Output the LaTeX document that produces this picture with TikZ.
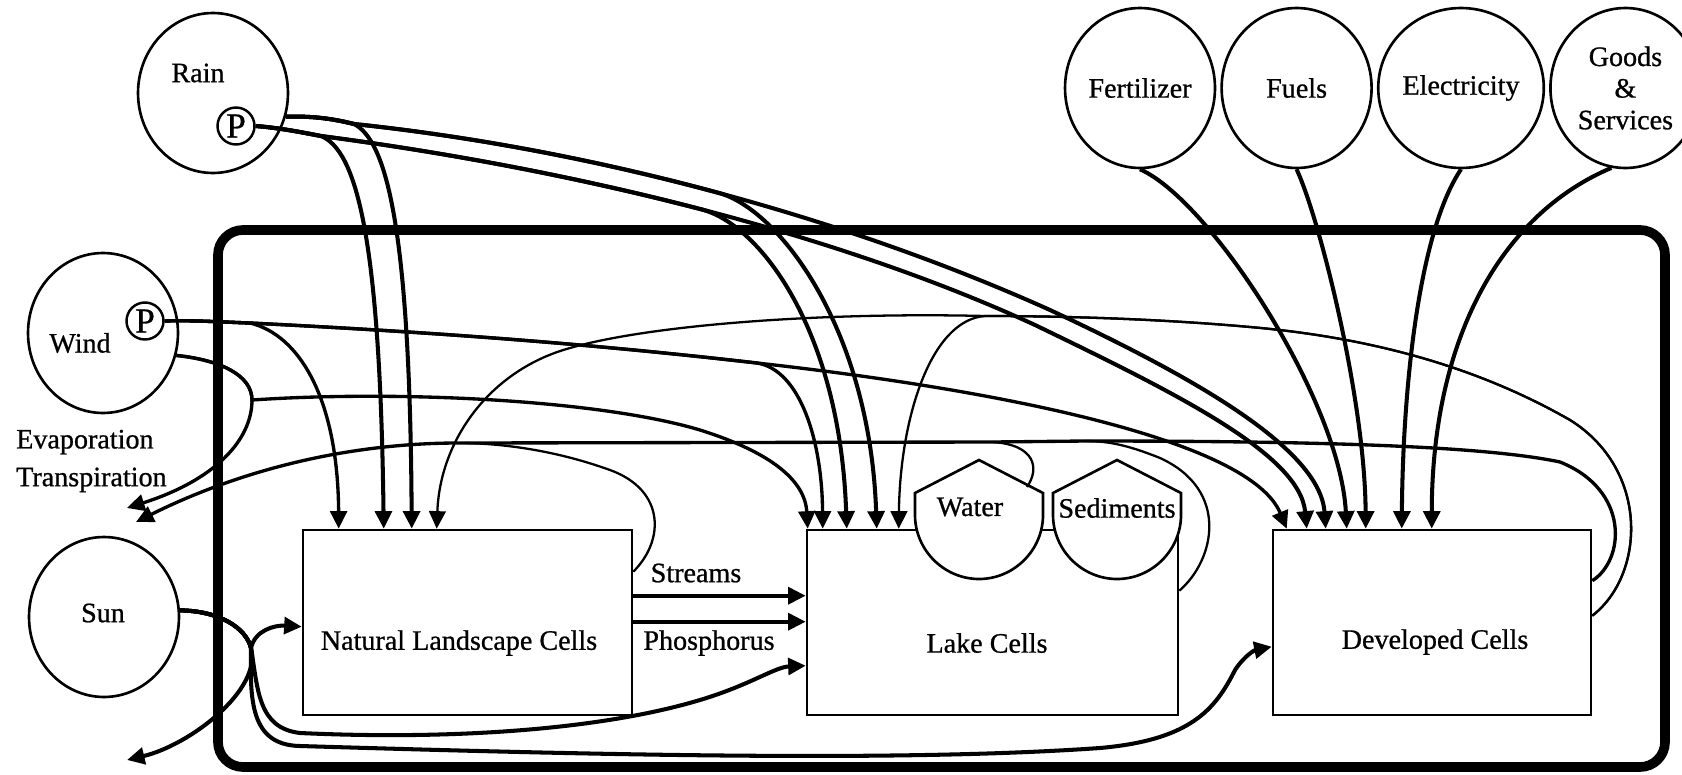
\documentclass[tikz,border=0pt]{standalone}
\usepackage{fontspec}
\setmainfont{Liberation Serif}
\newfontfamily\labelfont{Liberation Serif}[FakeBold=0.8]
\usetikzlibrary{positioning,arrows.meta,calc,shapes.geometric}

\begin{document}
\begin{tikzpicture}[x=0.02cm,y=-0.02cm,
  every node/.style={font=\labelfont\fontsize{16}{18}\selectfont},
  src/.style={draw,ellipse,line width=1.5pt,minimum width=3cm,minimum height=3.2cm,inner sep=0pt},
  pnode/.style={draw,circle,line width=1.4pt,minimum size=7.4mm,inner sep=0pt,font=\labelfont\fontsize{20}{20}\selectfont},
  cell/.style={draw,line width=1.5pt,minimum height=3.7cm,inner sep=0pt},
  bigbox/.style={line width=5.5pt,rounded corners=5mm},
  tank/.pic={\draw[line width=1.5pt,fill=white] (-64,-17) -- (0,-50) -- (64,-17) -- (64,5)
    .. controls (64,40) and (35,69) .. (0,69) .. controls (-35,69) and (-64,40) .. (-64,5) -- cycle;},
  arr/.style={-{Triangle[length=10pt,width=9.5pt]}},
  pipe/.style={line width=2.3pt},
  wire/.style={line width=1.9pt},
  feed/.style={line width=1.3pt}]
  \useasboundingbox (0,0) rectangle (1682,774);

  % frame round the cells
  \draw[bigbox] (218,230) rectangle (1665,767);

  % cells
  \node[cell,minimum width=6.58cm] (nat) at (467.5,622.5) {};
  \node[cell,minimum width=7.42cm] (lake) at (992.5,622.5) {};
  \node[cell,minimum width=6.36cm] (dev) at (1432,622.5) {};
  \pic at (979,510) {tank};
  \pic at (1117,510) {tank};
  \node (water) at (970,507) {Water};
  \node (sed) at (1117,508) {Sediments};
  \node (natlbl) at (459,643) {Natural Landscape Cells};
  \node (lakelbl) at (987,643) {Lake Cells};
  \node (devlbl) at (1435,642) {Developed Cells};

  % sources
  \node[src] (rain) at (213,93) {};
  \node[src] (wind) at (103,333) {};
  \node[src] (sun) at (104,617) {};
  \node (rainlbl) at (198,73) {Rain};
  \node (windlbl) at (80,343) {Wind};
  \node (sunlbl) at (103,613) {Sun};
  \node[pnode] (rainP) at (236,126) {P};
  \node[pnode] (windP) at (145,321) {P};
  \node[src] (fert) at (1140,88) {Fertilizer};
  \node[src,right=0.08cm of fert] (fuels) {Fuels};
  \node[src,right=0.08cm of fuels] (elec) {Electricity};
  \node[src,right=0.08cm of elec,align=center] (goods) {Goods\\\&\\Services};
  \node[align=left,anchor=west] (evap) at (10,461) {Evaporation\\[3.5pt]Transpiration};
  \node (streams) at (696,573) {Streams};
  \node (phos) at (709,643) {Phosphorus};

  \coordinate (evout1) at (127,508);
  \coordinate (evout2) at (136,522);
  \coordinate (sunout) at (127,760);
  \coordinate (jnat) at (465,443);
  \coordinate (jwater) at (993,442);
  \coordinate (jlake) at (1085,441);
  \coordinate (wroof) at (1027,487);

  % rain
  \draw[pipe,arr] (rain.-18) .. controls (310,116) and (330,118) .. (354,124)
    .. controls (385,140) and (410,220) .. ($(nat.north west)+(110,0)$);
  \draw[pipe,arr] (rain.-18) .. controls (310,116) and (330,118) .. (354,124)
    .. controls (477,137) and (601,161) .. (719,193)
    .. controls (780,210) and (870,330) .. ($(lake.north west)+(71,0)$);
  \draw[pipe,arr] (rain.-18) .. controls (310,116) and (330,118) .. (354,124)
    .. controls (477,137) and (601,161) .. (719,193)
    .. controls (837.5,225) and (950,265) .. (1050,310)
    .. controls (1200,380) and (1320,450) .. ($(dev.north west)+(54,0)$);
  \draw[pipe,arr] (rainP.east) .. controls (280,128) and (300,132) .. (321,136)
    .. controls (355,150) and (380,230) .. ($(nat.north west)+(82,0)$);
  \draw[pipe,arr] (rainP.east) .. controls (280,128) and (300,132) .. (321,136)
    .. controls (450.5,153) and (580.25,177.75) .. (702,209.5)
    .. controls (760,225) and (840,330) .. ($(lake.north west)+(41,0)$);
  \draw[pipe,arr] (rainP.east) .. controls (280,128) and (300,132) .. (321,136)
    .. controls (450.5,153) and (580.25,177.75) .. (702,209.5)
    .. controls (823.75,241.25) and (937.5,280) .. (1035,325)
    .. controls (1180,395) and (1300,455) .. ($(dev.north west)+(35,0)$);

  % wind
  \draw[wire,arr] (windP.east) .. controls (190,320) and (220,322) .. (250,323)
    .. controls (300,335) and (338,400) .. ($(nat.north west)+(37,0)$);
  \draw[wire,arr] (windP.east) .. controls (190,320) and (220,322) .. (250,323)
    .. controls (450,333) and (600,345) .. (757,363)
    .. controls (800,370) and (822,440) .. ($(lake.north west)+(17,0)$);
  \draw[wire,arr] (windP.east) .. controls (190,320) and (220,322) .. (250,323)
    .. controls (450,333) and (600,345) .. (757,363)
    .. controls (1000,390) and (1250,440) .. ($(dev.north west)+(15,0)$);
  \draw[wire,arr] (wind.-17) .. controls (220,360) and (252,375) .. (252,400)
    .. controls (252,440) and (215,480) .. (evout1);
  \draw[wire,arr] (wind.-17) .. controls (220,360) and (252,375) .. (252,400)
    .. controls (400,390) and (600,400) .. (700,430)
    .. controls (770,452) and (805,480) .. ($(lake.north west)+(2,0)$);

  % sun
  \draw[pipe,arr] (sun.5) .. controls (220,611) and (246,628) .. (251,648)
    .. controls (262,690) and (190,745) .. (sunout);
  \draw[pipe,arr] (sun.5) .. controls (220,611) and (246,628) .. (251,648)
    .. controls (255,630) and (275,625) .. ($(nat.north west)+(0,98)$);
  \draw[pipe,arr] (sun.5) .. controls (220,611) and (246,628) .. (251,648)
    .. controls (258,690) and (258,728) .. (300,733)
    .. controls (450,740) and (600,730) .. (700,700)
    .. controls (750,685) and (775,667) .. ($(lake.north west)+(0,137)$);
  \draw[pipe,arr] (sun.5) .. controls (220,611) and (246,628) .. (251,648)
    .. controls (250,700) and (250,745) .. (300,746)
    .. controls (600,755) and (900,762) .. (1100,748)
    .. controls (1190,740) and (1215,710) .. (1235,670)
    .. controls (1245,655) and (1255,650) .. ($(dev.north west)+(0,118)$);

  % purchased inputs
  \draw[pipe,arr] (fert.south) .. controls (1210,200) and (1340,400) .. ($(dev.north west)+(75,0)$);
  \draw[pipe,arr] (fuels.south) .. controls (1320,220) and (1365,400) .. ($(dev.north west)+(94,0)$);
  \draw[pipe,arr] (elec.south) .. controls (1420,230) and (1403,380) .. ($(dev.north west)+(130,0)$);
  \draw[pipe,arr] (goods.-100) .. controls (1500,215) and (1432,340) .. ($(dev.north west)+(160,0)$);

  % streams and phosphorus
  \draw[pipe,arr] ($(nat.north east)+(0,67)$) -- ($(lake.north west)+(0,67)$);
  \draw[pipe,arr] ($(nat.north east)+(0,93)$) -- ($(lake.north west)+(0,93)$);

  % feedback from developed cells
  \draw[feed,arr] ($(dev.north east)+(0,87)$) .. controls (1645,575) and (1650,470) .. (1570,420)
    .. controls (1500,380) and (1400,340) .. (1250,327)
    .. controls (1150,318) and (1050,316) .. (985,316)
    .. controls (820,312) and (650,325) .. (570,348)
    .. controls (490,370) and (440,440) .. ($(nat.north west)+(135,0)$);
  \draw[feed,arr] ($(dev.north east)+(0,87)$) .. controls (1645,575) and (1650,470) .. (1570,420)
    .. controls (1500,380) and (1400,340) .. (1250,327)
    .. controls (1150,318) and (1050,316) .. (985,316)
    .. controls (930,320) and (900,420) .. ($(lake.north west)+(93,0)$);

  % evaporation
  \draw[wire,arr] ($(dev.north east)+(0,52)$) .. controls (1625,560) and (1630,490) .. (1560,462)
    .. controls (1480,445) and (1300,441) .. (jlake) -- (jwater) -- (jnat)
    .. controls (330,442) and (220,480) .. (evout2);
  \draw[feed] ($(nat.north east)+(0,43)$) .. controls (665,540) and (665,490) .. (610,470)
    .. controls (560,452) and (510,444) .. (jnat);
  \draw[feed] (wroof) .. controls (1040,468) and (1035,445) .. (jwater);
  \draw[feed] ($(lake.north east)+(0,62)$) .. controls (1215,560) and (1230,490) .. (1160,458)
    .. controls (1130,446) and (1110,441) .. (jlake);
\end{tikzpicture}
\end{document}
